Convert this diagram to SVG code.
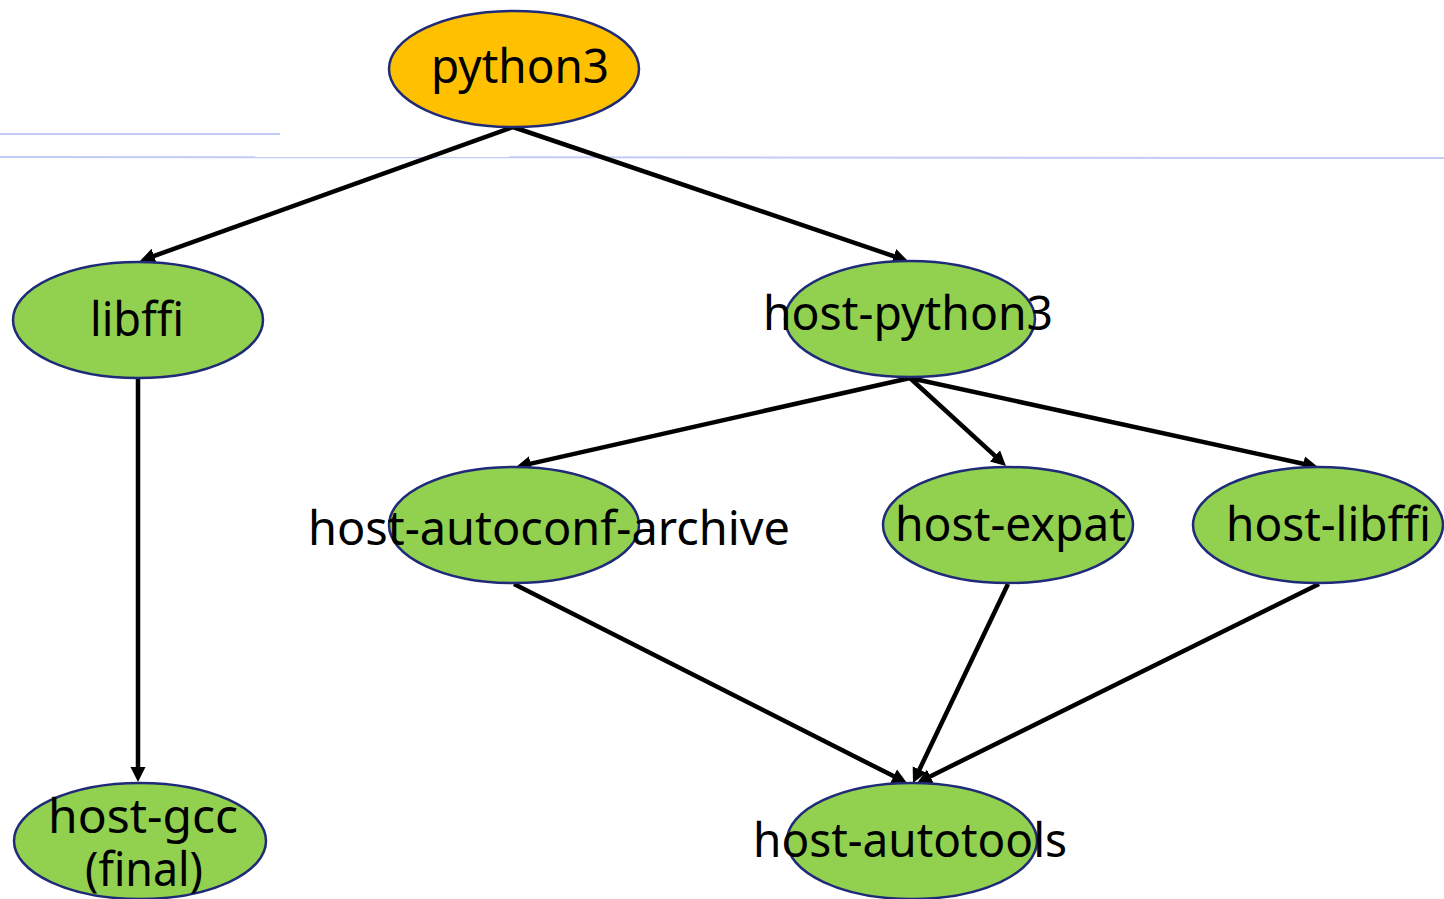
<svg xmlns="http://www.w3.org/2000/svg" width="1444" height="899" viewBox="0 0 1444 899">
  <style>
    .bg { fill: #ffffff; }
    .rule { stroke: #c3cbf7; stroke-width: 2; fill: none; }
    .node { stroke: #1f2a78; stroke-width: 2.5; }
    .root { fill: #ffc000; }
    .leaf { fill: #92d050; }
    .label { font-family: "Noto Sans", "Liberation Sans", sans-serif; font-size: 48px; fill: #000000; }
    .edge { stroke: #000000; stroke-width: 4.5; fill: none; }
  </style>
  <defs>
    <marker id="arrow" markerUnits="userSpaceOnUse" markerWidth="20" markerHeight="20" viewBox="0 -10 20 20" refX="2" refY="0" orient="auto">
      <path d="M0,-7.5 L15,0 L0,7.5 Z" fill="#000000"/>
    </marker>
  </defs>

  <rect class="bg" x="0" y="0" width="1444" height="899"/>

  <!-- horizontal guide rules -->
  <line class="rule" x1="0" y1="134" x2="280" y2="134"/>
  <line class="rule" x1="0" y1="157" x2="1444" y2="158"/>

  <!-- connectors -->
  <g id="edges">
    <line class="edge" x1="513" y1="127" x2="152.2" y2="256.6" marker-end="url(#arrow)"/>
    <line class="edge" x1="513" y1="127" x2="895.7" y2="256.8" marker-end="url(#arrow)"/>
    <line class="edge" x1="138" y1="378" x2="138" y2="769" marker-end="url(#arrow)"/>
    <line class="edge" x1="910" y1="378" x2="528.7" y2="464.1" marker-end="url(#arrow)"/>
    <line class="edge" x1="910" y1="378" x2="996.4" y2="457.2" marker-end="url(#arrow)"/>
    <line class="edge" x1="910" y1="378" x2="1305.3" y2="464.2" marker-end="url(#arrow)"/>
    <line class="edge" x1="514" y1="584" x2="895.4" y2="777.1" marker-end="url(#arrow)"/>
    <line class="edge" x1="1008" y1="584" x2="918.6" y2="771.3" marker-end="url(#arrow)"/>
    <line class="edge" x1="1319" y1="584" x2="928.6" y2="777.2" marker-end="url(#arrow)"/>
  </g>

  <!-- nodes -->
  <g id="python3">
    <ellipse class="node root" cx="514" cy="69" rx="125" ry="58"/>
    <text class="label" x="431" y="83" textLength="178" lengthAdjust="spacingAndGlyphs">python3</text>
  </g>
  <g id="libffi">
    <ellipse class="node leaf" cx="138" cy="320" rx="125" ry="58"/>
    <text class="label" x="90" y="336" textLength="94" lengthAdjust="spacingAndGlyphs">libffi</text>
  </g>
  <g id="host-python3">
    <ellipse class="node leaf" cx="910" cy="319" rx="125" ry="58"/>
    <text class="label" x="763" y="330" textLength="290" lengthAdjust="spacingAndGlyphs">host-python3</text>
  </g>
  <g id="host-autoconf-archive">
    <ellipse class="node leaf" cx="514" cy="525" rx="125" ry="58"/>
    <text class="label" x="308" y="545" textLength="482" lengthAdjust="spacingAndGlyphs">host-autoconf-archive</text>
  </g>
  <g id="host-expat">
    <ellipse class="node leaf" cx="1008" cy="525" rx="125" ry="58"/>
    <text class="label" x="895" y="541" textLength="231" lengthAdjust="spacingAndGlyphs">host-expat</text>
  </g>
  <g id="host-libffi">
    <ellipse class="node leaf" cx="1318" cy="525" rx="125" ry="58"/>
    <text class="label" x="1226" y="541" textLength="205" lengthAdjust="spacingAndGlyphs">host-libffi</text>
  </g>
  <g id="host-gcc-final">
    <ellipse class="node leaf" cx="140" cy="841" rx="126" ry="58"/>
    <text class="label" x="48" y="833" textLength="190" lengthAdjust="spacingAndGlyphs">host-gcc</text>
    <text class="label" x="85" y="886" textLength="118" lengthAdjust="spacingAndGlyphs">(final)</text>
  </g>
  <g id="host-autotools">
    <ellipse class="node leaf" cx="912" cy="841" rx="125" ry="58"/>
    <text class="label" x="753" y="857" textLength="314" lengthAdjust="spacingAndGlyphs">host-autotools</text>
  </g>
</svg>
